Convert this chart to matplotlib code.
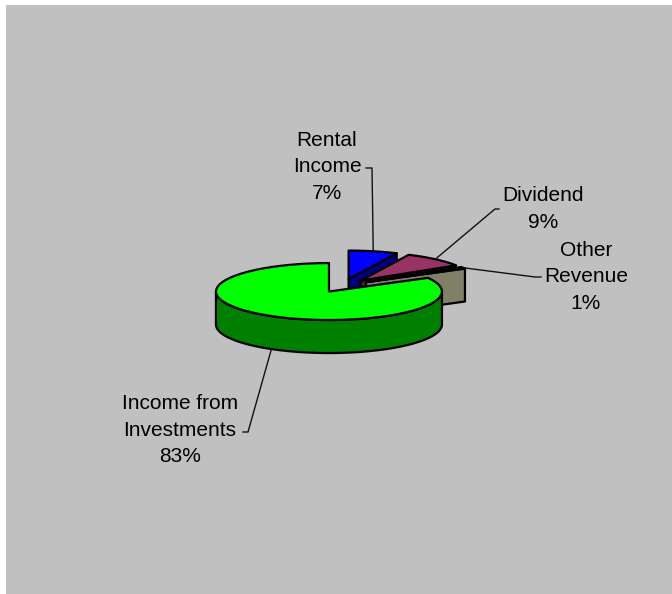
#!/usr/bin/env python3
"""Revenue breakdown drawn as an exploded 3-D pie."""

import numpy as np
import matplotlib
matplotlib.use("Agg")
import matplotlib.pyplot as plt
from matplotlib.patches import Polygon, Rectangle

# ── data ──
labels = ["Rental\nIncome", "Dividend", "Other\nRevenue", "Income from\nInvestments"]
values = [7, 9, 1, 83]
top_colors = ["#0000FF", "#993366", "#FFFFCC", "#00FF00"]
side_colors = ["#000080", "#4D1A33", "#808066", "#008000"]

# label block centres (pixels) and the elbow of each leader line
label_pos = [(327, 167), (543, 209), (586, 277), (180, 430)]
leader_elbow = [(372, 168), (495, 209), (535, 277), (248, 432)]
leader_start = [(366, 168), (499, 209), (541, 277), (243, 432)]

# ── pie geometry (pixels, y pointing down) ──
W, H = 672, 594
CX, CY = 342.7, 285.7
RADIUS = 113
TILT = 0.252      # vertical squash of the ellipse
DEPTH = 33        # thickness of the pie
EXPLODE = 27


def arc(cx, cy, t0, t1, z=0.0, n=60):
    t = np.radians(np.linspace(t0, t1, n))
    return np.column_stack([cx + RADIUS * np.sin(t), cy - RADIUS * np.cos(t) * TILT + z])


def point(cx, cy, t, z=0.0):
    t = np.radians(t)
    return np.array([cx + RADIUS * np.sin(t), cy - RADIUS * np.cos(t) * TILT + z])


fig = plt.figure(figsize=(W / 100, H / 100), dpi=100)
fig.patch.set_facecolor("white")
ax = fig.add_axes([0, 0, 1, 1])
ax.set_xlim(0, W)
ax.set_ylim(H, 0)
ax.axis("off")
ax.add_patch(Rectangle((6, 5), W - 6, H - 5, facecolor="#C0C0C0", edgecolor="none", zorder=0))

total = sum(values)
bounds = np.cumsum([0] + values) / total * 360.0
slices = []
for i in range(len(values)):
    a0, a1 = bounds[i], bounds[i + 1]
    mid = np.radians((a0 + a1) / 2)
    cx = CX + EXPLODE * np.sin(mid)
    cy = CY - EXPLODE * np.cos(mid) * TILT
    slices.append((i, a0, a1, cx, cy, np.cos(mid)))

# back slices first
slices.sort(key=lambda s: -s[5])
edge = dict(edgecolor="black", linewidth=1.6, joinstyle="round")
for z, (i, a0, a1, cx, cy, _) in enumerate(slices):
    zo = 2 + z * 4
    # outer wall, front half only
    w0, w1 = max(a0, 90), min(a1, 270)
    if w1 > w0:
        top = arc(cx, cy, w0, w1)
        bot = arc(cx, cy, w0, w1, DEPTH)[::-1]
        ax.add_patch(Polygon(np.vstack([top, bot]), facecolor=side_colors[i], zorder=zo, **edge))
    # radial cut faces that face the viewer
    for t, show in ((a1, np.sin(np.radians(a1)) > 1e-6), (a0, np.sin(np.radians(a0)) < -1e-6)):
        if show:
            face = [(cx, cy), point(cx, cy, t), point(cx, cy, t, DEPTH), (cx, cy + DEPTH)]
            ax.add_patch(Polygon(face, facecolor=side_colors[i], zorder=zo + 1, **edge))
    top = np.vstack([[cx, cy], arc(cx, cy, a0, a1)])
    ax.add_patch(Polygon(top, facecolor=top_colors[i], zorder=zo + 2, **edge))

# labels and leader lines
geo = {s[0]: s for s in slices}
for i, (lab, v) in enumerate(zip(labels, values)):
    _, a0, a1, cx, cy, front = geo[i]
    mid = (a0 + a1) / 2
    end = point(cx, cy, mid, DEPTH if front < 0 else 0)
    xs = [leader_start[i][0], leader_elbow[i][0], end[0]]
    ys = [leader_start[i][1], leader_elbow[i][1], end[1]]
    ax.plot(xs, ys, color="#111111", linewidth=1.0, zorder=30)
    ax.text(label_pos[i][0], label_pos[i][1], f"{lab}\n{v}%", ha="center", va="center",
            fontsize=15, family="Liberation Sans", linespacing=1.5, color="black", zorder=31)

fig.savefig("out.png", dpi=100)
